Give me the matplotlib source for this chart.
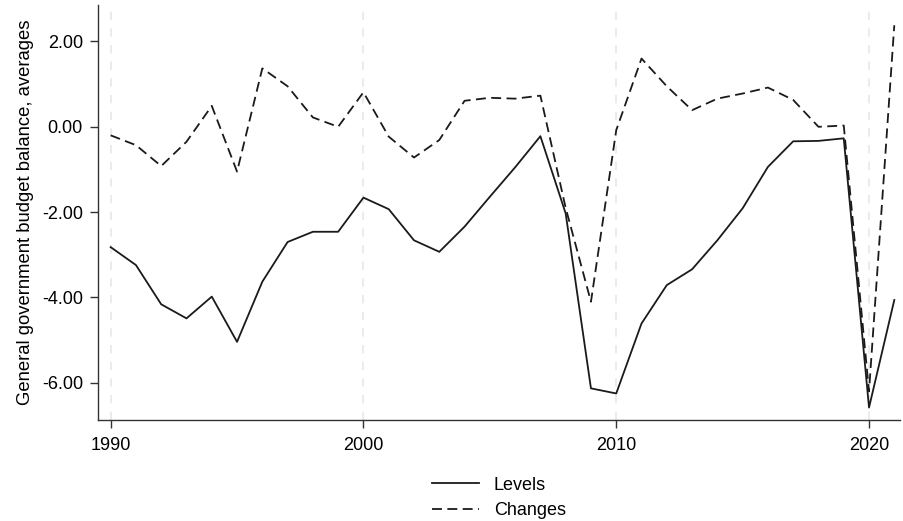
import matplotlib

matplotlib.use("Agg")

import matplotlib.pyplot as plt
import numpy as np

years = np.arange(1990, 2022)
levels = [
    -2.82, -3.24, -4.16, -4.49, -3.98, -5.04, -3.63, -2.70, -2.46, -2.46,
    -1.66, -1.93, -2.66, -2.93, -2.34, -1.64, -0.95, -0.22, -2.03, -6.13,
    -6.25, -4.61, -3.71, -3.34, -2.66, -1.91, -0.94, -0.34, -0.33, -0.27,
    -6.58, -4.06,
]
changes = [
    -0.20, -0.43, -0.92, -0.35, 0.49, -1.05, 1.37, 0.95, 0.22, 0.00,
    0.81, -0.23, -0.72, -0.31, 0.61, 0.68, 0.66, 0.73, -1.90, -4.10,
    -0.08, 1.60, 0.95, 0.39, 0.66, 0.78, 0.92, 0.63, 0.00, 0.03,
    -6.20, 2.38,
]
x_ticks = [1990, 2000, 2010, 2020]
y_ticks = [2, 0, -2, -4, -6]

plt.rcParams.update({"font.family": ["Liberation Sans", "DejaVu Sans"], "font.size": 13})

fig = plt.figure(figsize=(9.04, 5.21), dpi=100)
ax = fig.add_axes([0.1087, 0.194, 0.887, 0.796])

for xt in x_ticks:
    ax.axvline(xt, color="#e8e8e8", linestyle=(0, (5, 5)), linewidth=1.2, zorder=0)

ax.plot(years, levels, color="#1a1a1a", linewidth=1.3, label="Levels")
ax.plot(years, changes, color="#1a1a1a", linewidth=1.3, linestyle=(0, (5.5, 3)), label="Changes")

ax.set_xlim(1989.51, 2021.23)
ax.set_ylim(-6.87, 2.85)
ax.set_xticks(x_ticks)
ax.set_yticks(y_ticks)
ax.set_yticklabels([f"{v:.2f}" for v in y_ticks])
ax.set_ylabel("General government budget balance, averages", fontsize=13.3, labelpad=6)

for side in ("top", "right"):
    ax.spines[side].set_visible(False)
for side in ("left", "bottom"):
    ax.spines[side].set_color("#333333")
    ax.spines[side].set_linewidth(1.0)
ax.tick_params(colors="#333333", labelcolor="black", length=6, width=1.0, labelsize=13)
ax.tick_params(axis="x", pad=6)
ax.tick_params(axis="y", pad=5)

ax.legend(
    loc="upper center",
    bbox_to_anchor=(0.5, -0.098),
    ncol=1,
    frameon=False,
    handlelength=2.6,
    labelspacing=0.45,
    fontsize=13,
)

fig.savefig("out.png", dpi=100)
